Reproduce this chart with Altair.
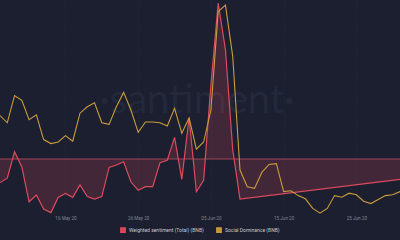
import altair as alt
import pandas as pd

# ---- data ----
start_date = "2020-05-07"
dates = pd.date_range(start_date, periods=56, freq="D").strftime("%Y-%m-%d").tolist()

# Weighted sentiment (Total) (BNB) – days with data (index into dates)
sent_idx = list(range(34)) + [55]
sentiment = [-0.59, -0.48, 0.18, -0.20, -1.07, -0.90, -1.25, -1.34, -0.96, -0.86,
             -0.96, -0.65, -0.94, -1.00, -0.94, -0.21, -0.15, -0.07, -0.57, -0.78,
             -0.69, -0.69, -0.09, -0.03, 0.54, -0.51, 1.03, -0.82, -0.53, 1.85,
             3.90, 2.73, 0.23, -1.00, -0.51]

# Social Dominance (BNB), %
social = [1.68, 1.59, 1.93, 1.87, 1.63, 1.69, 1.38, 1.33, 1.35, 1.43,
          1.36, 1.71, 1.79, 1.84, 1.59, 1.57, 1.79, 1.97, 1.75, 1.47,
          1.60, 1.60, 1.59, 1.55, 1.77, 1.46, 1.65, 1.26, 1.35, 1.75,
          2.98, 3.06, 2.42, 1.00, 0.79, 0.77, 0.97, 1.07, 1.08, 0.73,
          0.74, 0.68, 0.64, 0.52, 0.46, 0.52, 0.68, 0.66, 0.71, 0.69,
          0.61, 0.58, 0.63, 0.68, 0.69, 0.73]

names = ["Weighted sentiment (Total) (BNB)", "Social Dominance (BNB)"]
colors = ["#dd4a5e", "#c99c3c"]
tick_dates = ["2020-05-16", "2020-05-26", "2020-06-05", "2020-06-15", "2020-06-25"]

sent_df = pd.DataFrame({"date": [dates[i] for i in sent_idx], "value": sentiment,
                        "series": names[0], "zero": 0.0})
soc_df = pd.DataFrame({"date": dates, "value": social, "series": names[1]})

def dt(s):
    y, m, d = map(int, s.split("-"))
    return alt.DateTime(year=y, month=m, date=d, utc=True)

x_enc = alt.X(
    "date:T",
    scale=alt.Scale(type="utc", domain=[dt("2020-05-07"), dt("2020-07-01")]),
    axis=alt.Axis(values=[dt(t) for t in tick_dates], format="%d %b %y",
                  title=None, domain=False, ticks=False, labelFontSize=4.6,
                  labelColor="#7f8596", labelPadding=1, labelFont="Roboto",
                  grid=True, gridColor="#262a3b", gridDash=[1, 2]),
)

sent_y = alt.Scale(domain=[-1.375, 3.975], nice=False, zero=False)
soc_y = alt.Scale(domain=[0.45, 3.125], nice=False, zero=False)

color_enc = alt.Color(
    "series:N",
    scale=alt.Scale(domain=names, range=colors),
    legend=alt.Legend(title=None, orient="none", legendX=120, legendY=227,
                      direction="horizontal", symbolType="square", symbolSize=10,
                      symbolStrokeWidth=2.6, labelFontSize=5, labelColor="#c4c7d0",
                      labelFont="Roboto", columnPadding=8, labelOffset=3),
)

base_s = alt.Chart(sent_df)

watermark = base_s.mark_text(
    text="·santiment·", fontSize=40, color="#23283a", font="Lato"
).encode(x=alt.value(197), y=alt.value(101)).transform_filter("datum.value > 3")

area = base_s.mark_area(color="#dd4a5e", opacity=0.2).encode(
    x=x_enc, y=alt.Y("value:Q", scale=sent_y, axis=None), y2="zero:Q"
)
zero = base_s.mark_rule(color="#9e4456", strokeWidth=1).encode(
    y=alt.Y("zero:Q", scale=sent_y, axis=None)
).transform_filter("datum.value > 3")
sent_line = base_s.mark_line(strokeWidth=1.2).encode(
    x=x_enc, y=alt.Y("value:Q", scale=sent_y, axis=None), color=color_enc
)
sent_layer = alt.layer(watermark, area, zero, sent_line)

soc_line = alt.Chart(soc_df).mark_line(strokeWidth=1.1).encode(
    x=x_enc, y=alt.Y("value:Q", scale=soc_y, axis=None), color=color_enc
)

chart = alt.layer(sent_layer, soc_line).resolve_scale(
    y="independent"
).properties(
    width=400, height=214, background="#1c1f2f",
    autosize=alt.AutoSizeParams(type="none"),
    padding={"left": 0, "right": 0, "top": 0, "bottom": 26}
).configure_view(stroke=None)

chart.save("out.html", embed_options={"renderer": "svg", "actions": False})
